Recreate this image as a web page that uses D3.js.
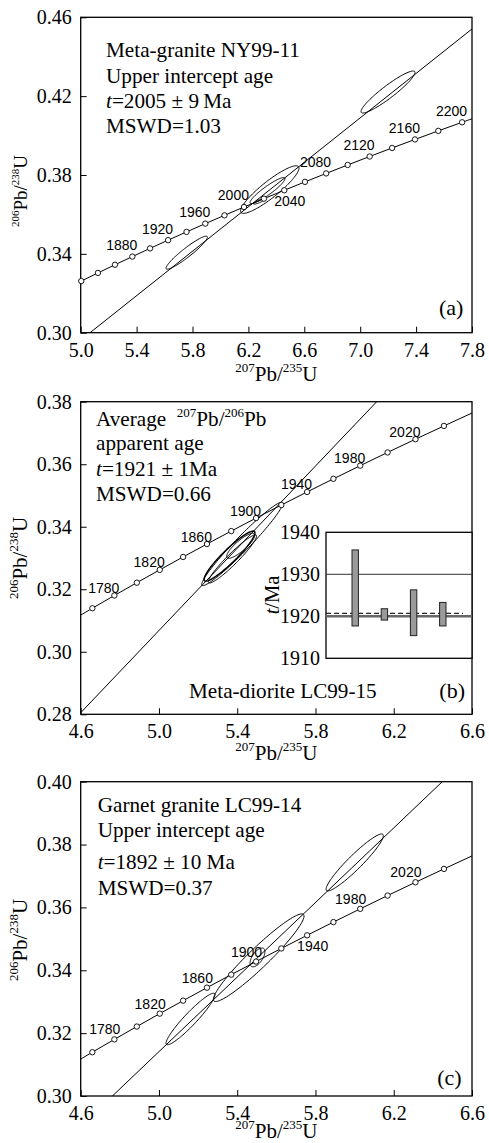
<!DOCTYPE html>
<html>
<head>
<meta charset="utf-8">
<script src="https://cdn.jsdelivr.net/npm/d3@7"></script>
<style>
  body { margin: 0; background: #fff; }
  svg { display: block; }
  .serif { font-family: "Liberation Serif", "Times New Roman", serif; fill: #000; }
  .age-label { font-family: "Liberation Sans", Arial, sans-serif; font-size: 14px; fill: #000; }
</style>
</head>
<body>
<div id="chart"></div>
<script>
// Concordia reference points (age in Ma, 207Pb/235U, 206Pb/238U)
const concordiaAge = [1740, 1760, 1780, 1800, 1820, 1840, 1860, 1880, 1900, 1920, 1940, 1960, 1980,
                      2000, 2020, 2040, 2060, 2080, 2100, 2120, 2140, 2160, 2180, 2200, 2220];
const concordia207 = [4.5491, 4.6595, 4.7721, 4.8869, 5.0040, 5.1234, 5.2453, 5.3695, 5.4962, 5.6254,
                      5.7572, 5.8916, 6.0287, 6.1685, 6.3111, 6.4566, 6.6049, 6.7562, 6.9105, 7.0678,
                      7.2283, 7.3920, 7.5589, 7.7292, 7.9028];
const concordia206 = [0.30986, 0.31393, 0.31801, 0.32210, 0.32621, 0.33033, 0.33447, 0.33861, 0.34277,
                      0.34695, 0.35113, 0.35533, 0.35954, 0.36377, 0.36800, 0.37225, 0.37652, 0.38080,
                      0.38509, 0.38939, 0.39371, 0.39804, 0.40238, 0.40674, 0.41111];

// Panel (a) Meta-granite NY99-11
const xTicksA = [5.0, 5.4, 5.8, 6.2, 6.6, 7.0, 7.4, 7.8];
const yTicksA = [0.30, 0.34, 0.38, 0.42, 0.46];
const circleAgesA = [1820, 1840, 1860, 1880, 1900, 1920, 1940, 1960, 1980, 2000, 2020, 2040, 2060,
                     2080, 2100, 2120, 2140, 2160, 2180, 2200];
const labelAgesA = [1880, 1920, 1960, 2000, 2040, 2080, 2120, 2160, 2200];
const belowAgesA = [2040];
const discordiaA = [[5.067, 0.30], [7.8, 0.4541]];
// ellipses: [207/235 centre, 206/238 centre, half-range x, half-range y, correlation]
const ellipsesA = [
  [5.7585, 0.3406, 0.148, 0.00837, 0.94],
  [6.353, 0.3726, 0.209, 0.01207, 0.90],
  [6.337, 0.3721, 0.125, 0.0066, 0.92],
  [6.278, 0.3667, 0.043, 0.0015, 0.85],
  [7.199, 0.4221, 0.193, 0.01065, 0.93]
];

// Panel (b) Meta-diorite LC99-15
const xTicksBC = [4.6, 5.0, 5.4, 5.8, 6.2, 6.6];
const yTicksB = [0.28, 0.30, 0.32, 0.34, 0.36, 0.38];
const circleAgesBC = [1760, 1780, 1800, 1820, 1840, 1860, 1880, 1900, 1920, 1940, 1960, 1980, 2000, 2020, 2040];
const labelAgesBC = [1780, 1820, 1860, 1900, 1940, 1980, 2020];
const belowAgesB = [];
const discordiaB = [[4.6, 0.2805], [6.113, 0.38]];
const ellipsesB = [
  [5.4255, 0.3345, 0.207, 0.01334, 0.97],
  [5.3605, 0.3306, 0.130, 0.0080, 0.93],
  [5.3759, 0.3297, 0.123, 0.0077, 0.95],
  [5.418, 0.3339, 0.072, 0.0040, 0.85]
];
// inset: 207Pb/206Pb apparent ages
const insetTicks = [1910, 1920, 1930, 1940];
const insetLow = [1917.7, 1919.1, 1915.4, 1917.7];
const insetHigh = [1935.8, 1921.8, 1926.3, 1923.3];
const insetMean = 1920.7;
const insetLine = 1920.0;
const insetRef = 1930;

// Panel (c) Garnet granite LC99-14
const yTicksC = [0.30, 0.32, 0.34, 0.36, 0.38, 0.40];
const belowAgesC = [1940];
const discordiaC = [[4.762, 0.30], [6.448, 0.40]];
const ellipsesC = [
  [6.0005, 0.3743, 0.1465, 0.00907, 0.94],
  [5.5098, 0.3440, 0.2317, 0.01394, 0.95],
  [5.1612, 0.3245, 0.125, 0.0082, 0.94],
  [5.5036, 0.3441, 0.038, 0.0030, 0.6]
];

const width = 489, height = 1143;
const svg = d3.select("#chart")
  .append("svg")
  .attr("width", width)
  .attr("height", height);

// text with superscript pieces
const isoText = (sel, parts, mainSize, supSize) => {
  const rise = mainSize * 0.42;
  let up = false;
  parts.forEach(([t, sup]) => {
    const dy = sup && !up ? -rise : (!sup && up ? rise : 0);
    up = sup;
    sel.append("tspan")
      .attr("dy", dy)
      .attr("font-size", sup ? supSize : mainSize)
      .text(t);
  });
};

const concordia = concordiaAge.map((a, i) => ({age: a, x: concordia207[i], y: concordia206[i]}));

const drawPanel = (p) => {
  const x = d3.scaleLinear().domain(p.xDomain).range([p.left, p.right]);
  const y = d3.scaleLinear().domain(p.yDomain).range([p.bottom, p.top]);

  svg.append("clipPath").attr("id", "clip-" + p.id)
    .append("rect")
    .attr("x", p.left).attr("y", p.top)
    .attr("width", p.right - p.left).attr("height", p.bottom - p.top);

  const g = svg.append("g");

  /* axes */
  g.append("g")
    .attr("transform", `translate(0,${p.bottom})`)
    .call(d3.axisBottom(x).tickValues(p.xTicks).tickFormat(d3.format(".1f"))
      .tickSizeInner(-6).tickSizeOuter(0).tickPadding(10))
    .call(ax => ax.select(".domain").remove())
    .call(ax => ax.selectAll("text").attr("class", "serif").attr("font-size", 20).attr("font-family", null))
    .call(ax => ax.selectAll("line").attr("stroke", "#000"));

  g.append("g")
    .attr("transform", `translate(${p.left},0)`)
    .call(d3.axisLeft(y).tickValues(p.yTicks).tickFormat(d3.format(".2f"))
      .tickSizeInner(-6).tickSizeOuter(0).tickPadding(9))
    .call(ax => ax.select(".domain").remove())
    .call(ax => ax.selectAll("text").attr("class", "serif").attr("font-size", 20).attr("font-family", null))
    .call(ax => ax.selectAll("line").attr("stroke", "#000"));

  g.append("rect")
    .attr("x", p.left).attr("y", p.top)
    .attr("width", p.right - p.left).attr("height", p.bottom - p.top)
    .attr("fill", "none").attr("stroke", "#000").attr("stroke-width", 1.3);

  const inner = g.append("g").attr("clip-path", `url(#clip-${p.id})`);

  // discordia
  inner.append("path")
    .attr("d", d3.line().x(d => x(d[0])).y(d => y(d[1]))(p.discordia))
    .attr("fill", "none").attr("stroke", "#000").attr("stroke-width", 1);

  // concordia
  inner.append("path")
    .attr("d", d3.line().x(d => x(d.x)).y(d => y(d.y)).curve(d3.curveCatmullRom)(concordia))
    .attr("fill", "none").attr("stroke", "#000").attr("stroke-width", 1);

  // error ellipses
  const ell = d3.line().x(d => x(d[0])).y(d => y(d[1])).curve(d3.curveLinearClosed);
  p.ellipses.forEach(([cx, cy, sx, sy, r], i) => {
    const pts = d3.range(120).map(k => {
      const th = 2 * Math.PI * k / 120;
      return [cx + sx * Math.cos(th), cy + sy * (r * Math.cos(th) + Math.sqrt(1 - r * r) * Math.sin(th))];
    });
    g.append("path")
      .attr("d", ell(pts))
      .attr("fill", "none").attr("stroke", "#000")
      .attr("stroke-width", p.thick === i ? 1.5 : 1);
  });

  // age markers
  const pts = concordia.filter(d => p.circleAges.includes(d.age));
  g.selectAll(null)
    .data(pts)
    .join("circle")
    .attr("cx", d => x(d.x)).attr("cy", d => y(d.y))
    .attr("r", 2.7)
    .attr("fill", "#fff").attr("stroke", "#000").attr("stroke-width", 0.9);

  const labs = concordia.filter(d => p.labelAges.includes(d.age));
  g.selectAll(null)
    .data(labs)
    .join("text")
    .attr("class", "age-label")
    .attr("x", d => p.below.includes(d.age) ? x(d.x) - 10 : x(d.x) + p.labelDx)
    .attr("y", d => p.below.includes(d.age) ? y(d.y) + 16 : y(d.y) + p.labelDy)
    .attr("text-anchor", d => p.below.includes(d.age) ? "start" : "end")
    .text(d => d.age);

  // axis titles
  const xt = svg.append("text").attr("class", "serif")
    .attr("x", (p.left + p.right) / 2).attr("y", p.xTitleY)
    .attr("text-anchor", "middle");
  isoText(xt, [["207", true], ["Pb/", false], ["235", true], ["U", false]], 21, 13);

  const yt = svg.append("text").attr("class", "serif")
    .attr("transform", `translate(27,${p.yTitleY}) rotate(-90)`)
    .attr("text-anchor", "middle");
  isoText(yt, [["206", true], ["Pb/", false], ["238", true], ["U", false]], p.yTitleSize, p.yTitleSup);

  return {x, y};
};

drawPanel({
  id: "a", left: 80.7, right: 472, top: 17.3, bottom: 332.7,
  xDomain: [5.0, 7.8], yDomain: [0.30, 0.46], xTicks: xTicksA, yTicks: yTicksA,
  discordia: discordiaA, ellipses: ellipsesA, circleAges: circleAgesA,
  labelAges: labelAgesA, below: belowAgesA, labelDx: 5, labelDy: -6.5,
  xTitleY: 381, yTitleY: 191, yTitleSize: 19, yTitleSup: 11, thick: -1
});
drawPanel({
  id: "b", left: 80.7, right: 472, top: 401.7, bottom: 714.3,
  xDomain: [4.6, 6.6], yDomain: [0.28, 0.38], xTicks: xTicksBC, yTicks: yTicksB,
  discordia: discordiaB, ellipses: ellipsesB, circleAges: circleAgesBC,
  labelAges: labelAgesBC, below: belowAgesB, labelDx: 5, labelDy: -2.5,
  xTitleY: 760, yTitleY: 558, yTitleSize: 21, yTitleSup: 13, thick: 1
});
drawPanel({
  id: "c", left: 80.7, right: 472, top: 781.7, bottom: 1096,
  xDomain: [4.6, 6.6], yDomain: [0.30, 0.40], xTicks: xTicksBC, yTicks: yTicksC,
  discordia: discordiaC, ellipses: ellipsesC, circleAges: circleAgesBC,
  labelAges: labelAgesBC, below: belowAgesC, labelDx: 6, labelDy: -5,
  xTitleY: 1138, yTitleY: 940, yTitleSize: 21, yTitleSup: 13, thick: -1
});

/*********************/
/* Annotations       */
/*********************/
const note = (x, yy, parts, size) => {
  const t = svg.append("text").attr("class", "serif").attr("x", x).attr("y", yy).attr("font-size", size || 21.2);
  parts.forEach(([s, style]) => {
    const ts = t.append("tspan").text(s);
    if (style === "i") ts.attr("font-style", "italic");
  });
  return t;
};

note(106, 57.3, [["Meta-granite NY99-11"]]);
note(106, 82.7, [["Upper intercept age"]]);
note(106, 108.3, [["t", "i"], ["=2005 \u00b1 9\u2009Ma"]]);
note(106, 133.3, [["MSWD=1.03"]]);
note(463.3, 315, [["(a)"]], 22).attr("text-anchor", "end");

const avg = svg.append("text").attr("class", "serif").attr("x", 96).attr("y", 426);
isoText(avg, [["Average\u00a0\u00a0", false], ["207", true], ["Pb/", false], ["206", true], ["Pb", false]], 21.2, 13);
note(96, 450, [["apparent age"]]);
note(96, 476, [["t", "i"], ["=1921 \u00b1 1Ma"]]);
note(96, 501, [["MSWD=0.66"]]);
note(189, 698.3, [["Meta-diorite LC99-15"]]);
note(465, 698, [["(b)"]], 22).attr("text-anchor", "end");

note(97.7, 811.7, [["Garnet granite LC99-14"]]);
note(97.7, 837, [["Upper intercept age"]]);
note(97.7, 868.5, [["t", "i"], ["=1892 \u00b1 10 Ma"]]);
note(97.7, 895, [["MSWD=0.37"]]);
note(461.7, 1085, [["(c)"]], 22).attr("text-anchor", "end");

/*********************/
/* Inset of panel b  */
/*********************/
const ix = d3.scaleLinear().domain([0, 5]).range([326, 472]);
const iy = d3.scaleLinear().domain([1910, 1940]).range([658.3, 532.3]);
const inset = svg.append("g");

inset.append("rect")
  .attr("x", 326).attr("y", 532.3).attr("width", 146).attr("height", 126)
  .attr("fill", "#fff").attr("stroke", "#000").attr("stroke-width", 1.3);

inset.append("line")
  .attr("x1", 326).attr("x2", 472).attr("y1", iy(insetRef)).attr("y2", iy(insetRef))
  .attr("stroke", "#333").attr("stroke-width", 1);

inset.append("line")
  .attr("x1", 326).attr("x2", 472).attr("y1", iy(insetLine)).attr("y2", iy(insetLine))
  .attr("stroke", "#666").attr("stroke-width", 2.6);

inset.append("line")
  .attr("x1", 326).attr("x2", 463).attr("y1", iy(insetMean)).attr("y2", iy(insetMean))
  .attr("stroke", "#222").attr("stroke-width", 1.3).attr("stroke-dasharray", "5,3");

inset.selectAll(null)
  .data(insetLow)
  .join("rect")
  .attr("x", (d, i) => ix(i + 1) - 3.2)
  .attr("width", 6.4)
  .attr("y", (d, i) => iy(insetHigh[i]))
  .attr("height", (d, i) => iy(d) - iy(insetHigh[i]))
  .attr("fill", "#9a9a9a").attr("stroke", "#222").attr("stroke-width", 1);

inset.append("g")
  .attr("transform", "translate(326,0)")
  .call(d3.axisLeft(iy).tickValues(insetTicks).tickFormat(d3.format("d")).tickSize(0).tickPadding(6))
  .call(ax => ax.select(".domain").remove())
  .call(ax => ax.selectAll("text").attr("class", "serif").attr("font-size", 20).attr("font-family", null));

const itl = svg.append("text").attr("class", "serif")
  .attr("transform", "translate(279,595) rotate(-90)")
  .attr("text-anchor", "middle").attr("font-size", 20.5);
itl.append("tspan").attr("font-style", "italic").text("t");
itl.append("tspan").text("/Ma");
</script>
</body>
</html>
